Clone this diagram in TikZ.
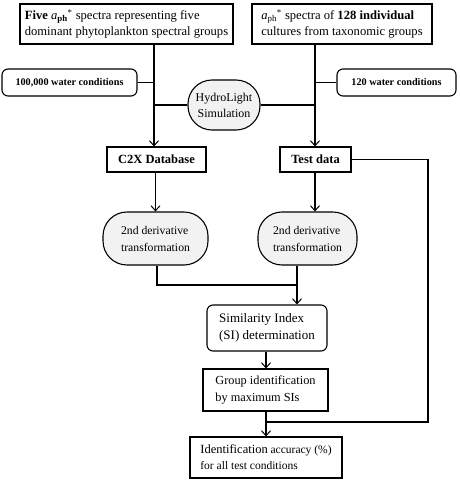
\documentclass[tikz,border=0pt]{standalone}
\usepackage{fontspec}
\setmainfont{Liberation Serif}
\usetikzlibrary{arrows.meta}
\tikzset{
  line/.style={draw=black, line width=1.1pt},
  arr/.style={line, -{Straight Barb[length=5pt,width=9pt,line width=1pt]}},
  sqbox/.style={draw=black, line width=1.1pt, fill=white, inner sep=2pt, align=left},
  rbox/.style={sqbox, rounded corners=6pt},
  pill/.style={sqbox, fill=gray!10, rounded corners=24pt},
}
\begin{document}
\begin{tikzpicture}[x=1pt,y=-1pt]
\useasboundingbox (0,0) rectangle (459,482);
\node[sqbox, minimum width=213pt, minimum height=40pt, font=\fontsize{12.6}{16}\selectfont] (b1) at (126.5,24)
  {\textbf{Five} \textit{a}\textsubscript{\textbf{ph}}\textsuperscript{*} spectra representing five\\dominant phytoplankton spectral groups};
\node[sqbox, minimum width=180pt, minimum height=40pt, font=\fontsize{12.6}{16}\selectfont] (b2) at (342,24)
  {\textit{a}\textsubscript{ph}\textsuperscript{*} spectra of \textbf{128 individual}\\cultures from taxonomic groups};
\node[rbox, minimum width=135pt, minimum height=27pt, font=\fontsize{10.2}{12}\selectfont\bfseries] (w1) at (69.5,82.5) {100,000 water conditions};
\node[rbox, minimum width=119pt, minimum height=27pt, font=\fontsize{10.2}{12}\selectfont\bfseries] (w2) at (396.5,82.5) {120 water conditions};
\node[pill, minimum width=72pt, minimum height=50pt, align=center, font=\fontsize{12}{16}\selectfont] (hy) at (224,105) {HydroLight\\Simulation};
\node[sqbox, minimum width=99pt, minimum height=25pt, font=\fontsize{12.5}{15}\selectfont\bfseries] (c2x) at (156.5,159.5) {C2X Database};
\node[sqbox, minimum width=71pt, minimum height=25pt, font=\fontsize{12.5}{15}\selectfont\bfseries] (td) at (315.5,159.5) {Test data};
\node[pill, minimum width=105pt, minimum height=53pt, font=\fontsize{11.7}{17}\selectfont] (d1) at (155.5,238.5) {2nd derivative\\transformation};
\node[pill, minimum width=99pt, minimum height=53pt, font=\fontsize{11.7}{17}\selectfont] (d2) at (307.5,238.5) {2nd derivative\\transformation};
\node[rbox, minimum width=120pt, minimum height=46pt, font=\fontsize{13}{17}\selectfont] (si) at (267,328) {Similarity Index\\(SI) determination};
\node[sqbox, minimum width=125pt, minimum height=42pt, font=\fontsize{12.3}{17}\selectfont] (gi) at (265.5,390) {Group identification\\by maximum SIs};
\node[sqbox, minimum width=152pt, minimum height=41pt, font=\fontsize{11.5}{16}\selectfont] (ia) at (266,457.5) {{\fontsize{12.5}{16}\selectfont Identification} accuracy (\%)\\for all test conditions};
% helper coordinates
\coordinate (vl) at (154,0);
\coordinate (vr) at (315,0);
\coordinate (dl) at (157,0);
\coordinate (dr) at (297,0);
\coordinate (jy) at (0,285);
\coordinate (cx) at (266,0);
\coordinate (fx) at (428,0);
\coordinate (fy) at (0,422);
% connectors
\draw[arr] (b1.south -| vl) -- (c2x.north -| vl);
\draw[arr] (b2.south -| vr) -- (td.north -| vr);
\draw[line] (w1.east) -- (w1.east -| vl);
\draw[line] (w2.west) -- (w2.west -| vr);
\draw[line] (hy.west) -- (hy.west -| vl);
\draw[line] (hy.east) -- (hy.east -| vr);
\draw[arr] (c2x.south -| d1) -- (d1.north);
\draw[arr] (td.south -| vr) -- (d2.north -| vr);
\draw[line] (d1.south -| dl) -- (jy -| dl) -- (jy -| dr);
\draw[arr] (d2.south -| dr) -- (si.north -| dr);
\draw[arr] (si.south -| cx) -- (gi.north -| cx);
\draw[arr] (gi.south -| cx) -- (ia.north -| cx);
\draw[line] (td.east) -- (td.east -| fx) -- (fy -| fx) -- (fy -| cx);
\end{tikzpicture}
\end{document}
